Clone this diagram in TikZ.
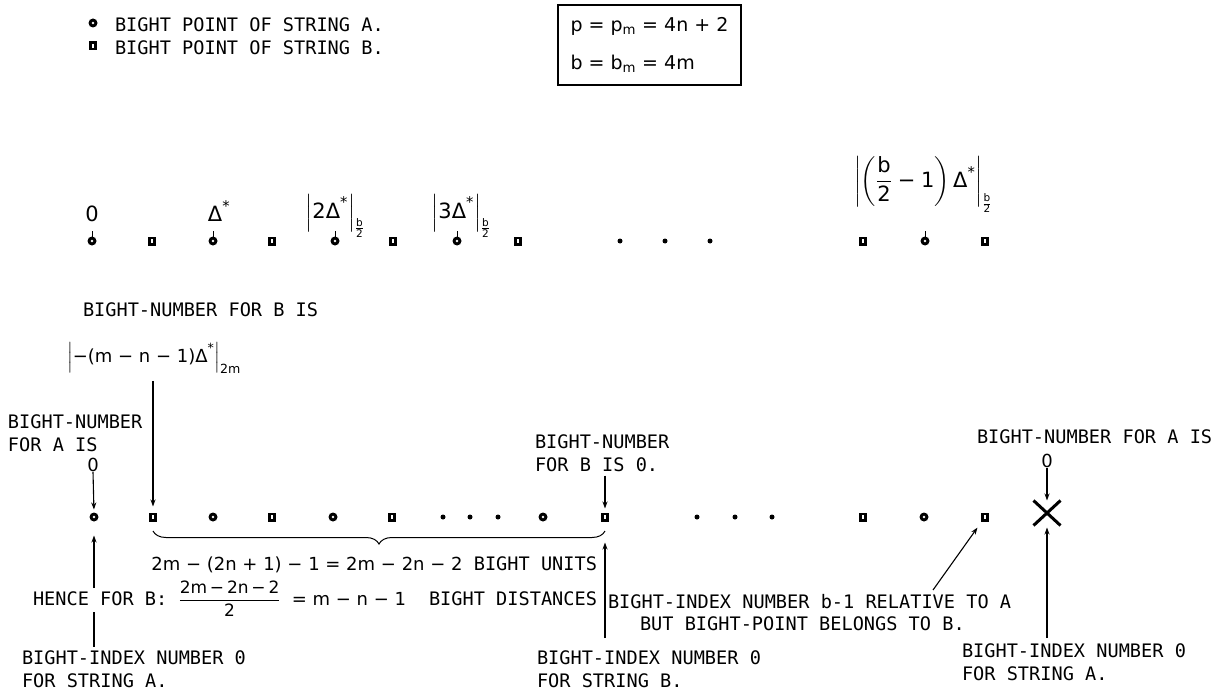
\documentclass[tikz,border=0pt]{standalone}
\usepackage{amsmath}
\usepackage{fontspec}
\setmainfont{DejaVu Sans Mono}
\newfontfamily\mff{DejaVu Sans}
\newcommand{\T}[1]{\text{\mff #1}}
\usetikzlibrary{arrows.meta,decorations.pathreplacing,shapes.misc}
\begin{document}
\begin{tikzpicture}[x=1pt,y=-1pt,
  every node/.style={inner sep=0pt, outer sep=0pt},
  lbl/.style={font=\fontsize{18.6}{23}\selectfont, align=left},
  mth/.style={font=\fontsize{18}{22}\selectfont},
  big/.style={font=\fontsize{21}{24}\selectfont},
  ptA/.style={circle, fill=black, minimum size=9pt,
    path picture={\fill[white] (path picture bounding box.center) circle (1.3pt);}},
  ptB/.style={rectangle, fill=black, minimum width=8pt, minimum height=9pt,
    path picture={\fill[white] ([xshift=-0.6pt,yshift=-2.2pt]path picture bounding box.center) rectangle ++(1.2pt,4.4pt);}},
  dotp/.style={circle, fill=black, minimum size=5pt},
  ln/.style={line width=1.1pt},
  arr/.style={line width=1.1pt, -{Stealth[length=7pt,width=5pt]}},
]
\useasboundingbox (0,0) rectangle (1229,693);

% legend
\node[ptA] (legA) at (93,23) {};
\node[lbl, anchor=west] (legAt) at (115,25) {BIGHT POINT OF STRING A.};
\node[ptB] (legB) at (93,46) {};
\node[lbl, anchor=west] (legBt) at (115,48) {BIGHT POINT OF STRING B.};

% box
\node[draw, line width=1.6pt, font=\fontsize{19}{38}\selectfont, align=left,
      minimum width=183pt, minimum height=80pt, anchor=north west] (box) at (558,5)
  {{\mff p = p$_{\T{m}}$ = 4n + 2}\\{\mff b = b$_{\T{m}}$ = 4m}};

% top row of points
\foreach \x [count=\i] in {92,213,335,457,925}{
  \node[ptA] (tA\i) at (\x,241) {};
  \draw[line width=1pt] (tA\i.north) -- ++(0,-6);
}
\foreach \x [count=\i] in {152,272,393,518,863,985}{
  \node[ptB] (tB\i) at (\x,241) {};
}
\foreach \x [count=\i] in {620,665,710}{
  \node[dotp] (td\i) at (\x,241) {};
}

% top labels
\node[big, anchor=base] (t0) at (92,221) {\mff 0};
\node[big, anchor=base] (t1) at (219,221) {$\T{Δ}^{\T{*}}$};
\node[big, anchor=base] (t2) at (335,218) {$\left|\T{2Δ}^{\T{*}}\right|_{\frac{\T{b}}{\T{2}}}$};
\node[big, anchor=base] (t3) at (461,218) {$\left|\T{3Δ}^{\T{*}}\right|_{\frac{\T{b}}{\T{2}}}$};
\node[big, anchor=base] (t4) at (923,187) {$\left|\left(\dfrac{\T{b}}{\T{2}}\;\T{−}\;\T{1}\right)\T{Δ}^{\T{*}}\right|_{\frac{\T{b}}{\T{2}}}$};

% middle labels
\node[lbl, anchor=west] (bnB) at (83,310) {BIGHT-NUMBER FOR B IS};
\node[mth, anchor=base west] (fB) at (67,362) {$\left|\T{−(m − n − 1)Δ}^{\T{*}}\right|_{\T{2m}}$};
\node[lbl, anchor=west] (bnA) at (8,433.5) {BIGHT-NUMBER\\FOR A IS};
\node[mth] (zA) at (93,465) {\mff 0};
\node[lbl, anchor=west] (bnB0) at (535,453) {BIGHT-NUMBER\\FOR B IS 0.};
\node[lbl, anchor=west] (bnA2) at (977,437) {BIGHT-NUMBER FOR A IS};
\node[mth] (zA2) at (1047,461) {\mff 0};

% bottom row of points
\node[ptA] (a0) at (94,517) {};
\node[ptB] (b1) at (153,517) {};
\node[ptA] (a1) at (213,517) {};
\node[ptB] (b2) at (272,517) {};
\node[ptA] (a2) at (333,517) {};
\node[ptB] (b3) at (392,517) {};
\node[dotp] (d1) at (443,517) {};
\node[dotp] (d2) at (470,517) {};
\node[dotp] (d3) at (498,517) {};
\node[ptA] (a3) at (543,517) {};
\node[ptB] (b4) at (605,517) {};
\node[dotp] (d4) at (697,517) {};
\node[dotp] (d5) at (735,517) {};
\node[dotp] (d6) at (772,517) {};
\node[ptB] (b5) at (863,517) {};
\node[ptA] (a4) at (924,517) {};
\node[ptB] (b6) at (985,517) {};
\node[draw, cross out, line width=3pt, minimum width=27pt, minimum height=25pt] (xa) at (1047,513) {};

% brace
\draw[line width=1pt, decorate, decoration={brace, mirror, amplitude=13pt}]
  ([yshift=-14pt]b1.center) -- ([yshift=-14pt]b4.center);
\node[lbl, anchor=base east] (units) at (597,570)
  {{\fontsize{18}{22}\selectfont\mff 2m − (2n + 1) − 1 = 2m − 2n − 2} BIGHT UNITS};

% hence line
\node[lbl, anchor=base west] (hence) at (33,605)
  {HENCE FOR B: $\dfrac{\text{\fontsize{17}{19}\selectfont\mff 2m\,−\,2n\,−\,2}}{\text{\fontsize{17}{19}\selectfont\mff 2}}$ {\fontsize{18}{22}\selectfont\mff = m − n − 1}};
\node[lbl, anchor=base east] (dist) at (597,605) {BIGHT DISTANCES};
\node[lbl, anchor=west] (bi1) at (608,602) {BIGHT-INDEX NUMBER b-1 RELATIVE TO A};
\node[lbl, anchor=west] (bi2) at (640,624) {BUT BIGHT-POINT BELONGS TO B.};

% bottom labels
\node[lbl, anchor=west] (ia) at (22,669) {BIGHT-INDEX NUMBER 0\\FOR STRING A.};
\node[lbl, anchor=west] (ib) at (537,669) {BIGHT-INDEX NUMBER 0\\FOR STRING B.};
\node[lbl, anchor=west] (ia2) at (962,662) {BIGHT-INDEX NUMBER 0\\FOR STRING A.};

% coordinates for free ends
\coordinate (ca1) at (94,588);
\coordinate (ca2) at (94,612);
\coordinate (ca3) at (94,647);
\coordinate (cb) at (605,638);
\coordinate (cs) at (933,590);
\coordinate (cx) at (1047,638);

% connectors
\draw[arr, shorten >=6pt] ([yshift=-7pt]b1 |- fB.south) -- (b1.north);
\draw[arr, shorten >=3pt] (zA.south) -- (a0.north);
\draw[arr, shorten >=4pt] ([yshift=-4pt]b4 |- bnB0.south) -- (b4.north);
\draw[arr] (zA2.south) -- (xa.north);
\draw[arr, shorten >=14pt] (ca1) -- (a0.south);
\draw[ln] (ca2) -- (ca3);
\draw[arr, shorten >=21pt] (cb) -- (b4.south);
\draw[arr, shorten >=13pt] (cs) -- (b6.center);
\draw[arr, shorten >=2pt] (cx) -- (xa.south);
\end{tikzpicture}
\end{document}
